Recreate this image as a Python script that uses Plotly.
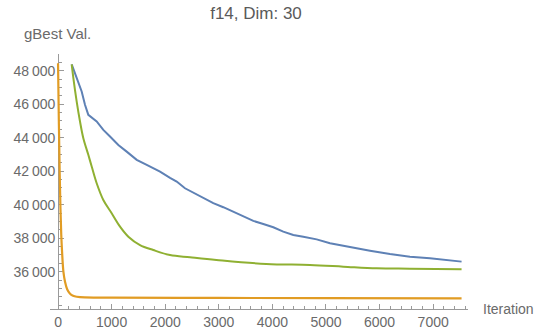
import plotly.graph_objects as go

# ---- data ----
blue_x = [255, 348, 441, 503, 565, 721, 845, 970, 1125, 1281, 1468, 1655, 1903, 2090,
          2214, 2369, 2524, 2711, 2897, 3084, 3271, 3457, 3644, 3830, 4017, 4203, 4390,
          4577, 4826, 5075, 5448, 5821, 6194, 6567, 6940, 7313, 7530]
blue_y = [48380, 47560, 46760, 45970, 45370, 44970, 44470, 44070, 43570, 43170, 42680,
          42380, 41980, 41600, 41380, 40980, 40720, 40390, 40090, 39850, 39590, 39290,
          39030, 38850, 38650, 38390, 38190, 38090, 37930, 37700, 37460, 37250, 37050,
          36890, 36800, 36700, 36600]

green_x = [255, 286, 348, 410, 472, 565, 628, 721, 845, 1001, 1157, 1312, 1530, 1778,
           2090, 2463, 2955, 3886, 4701, 5323, 5946, 6567, 7530]
green_y = [48380, 47560, 46160, 44970, 43970, 42980, 42280, 41280, 40280, 39490, 38690,
           38090, 37590, 37290, 36990, 36860, 36700, 36460, 36400, 36300, 36200, 36180,
           36150]

orange_x = [0, 15, 30, 45, 60, 75, 100, 130, 170, 220, 280, 350, 500, 1000, 3000,
            5000, 7530]
orange_y = [48450, 45000, 42000, 39800, 38200, 37200, 36000, 35400, 34950, 34700,
            34560, 34500, 34460, 34450, 34430, 34420, 34410]

y_ticks = [36000, 38000, 40000, 42000, 44000, 46000, 48000]
x_ticks = [0, 1000, 2000, 3000, 4000, 5000, 6000, 7000]

title = "f14, Dim: 30"
x_label = "Iteration"
y_label = "gBest Val."

x_range = [-150, 7650]
y_range = [33770, 49000]

BLUE = "#5E81B5"
ORANGE = "#E19C24"
GREEN = "#8FB032"
AXIS = "#9a9a9a"
TXT = "#6a6a6a"
FONT = "Liberation Sans"

fig = go.Figure()
fig.add_trace(go.Scatter(x=blue_x, y=blue_y, mode="lines",
                         line=dict(color=BLUE, width=2)))
fig.add_trace(go.Scatter(x=green_x, y=green_y, mode="lines",
                         line=dict(color=GREEN, width=2), line_shape="spline"))
fig.add_trace(go.Scatter(x=orange_x, y=orange_y, mode="lines",
                         line=dict(color=ORANGE, width=2.2), line_shape="spline"))

fig.update_layout(
    width=538, height=334,
    margin=dict(l=50, r=70, t=54, b=25, autoexpand=False),
    paper_bgcolor="white", plot_bgcolor="white",
    showlegend=False,
    separators=".\u2009",
    font=dict(family=FONT, size=14, color=TXT),
    title=dict(text=title, x=256 / 538, xanchor="center", y=1 - 13 / 334,
               yanchor="middle", font=dict(size=17, color="#5a5a5a", family=FONT)),
)

fig.update_xaxes(
    range=x_range, showgrid=False, zeroline=False, automargin=False,
    showline=True, linecolor=AXIS, linewidth=1, layer="below traces",
    ticks="inside", ticklen=5, tickcolor=AXIS,
    tickmode="array", tickvals=x_ticks, tickformat="d",
    minor=dict(ticks="inside", ticklen=3, dtick=200, tick0=0, tickcolor=AXIS),
    tickfont=dict(size=14, color=TXT, family=FONT),
    anchor="y",
)
fig.update_yaxes(
    range=y_range, showgrid=False, zeroline=False, automargin=False,
    showline=True, linecolor=AXIS, linewidth=1, layer="below traces",
    ticks="inside", ticklen=5, tickcolor=AXIS,
    tickmode="array", tickvals=y_ticks, tickformat=",",
    minor=dict(ticks="inside", ticklen=3, dtick=500, tick0=0, tickcolor=AXIS),
    tickfont=dict(size=14, color=TXT, family=FONT),
    anchor="free", position=(0 - x_range[0]) / (x_range[1] - x_range[0]),
)

fig.add_annotation(text=y_label, xref="paper", yref="paper",
                   x=-28 / 418, y=1 + 21 / 255, xanchor="left", yanchor="middle",
                   showarrow=False, font=dict(size=15, color=TXT, family=FONT))
fig.add_annotation(text=x_label, xref="paper", yref="paper",
                   x=1 + 13 / 418, y=0, xanchor="left", yanchor="middle",
                   showarrow=False, font=dict(size=14, color=TXT, family=FONT))

fig.write_html("out.html",
               config={"displayModeBar": False, "staticPlot": True},
               post_script="document.body.style.margin='0';document.body.style.overflow='hidden';")
